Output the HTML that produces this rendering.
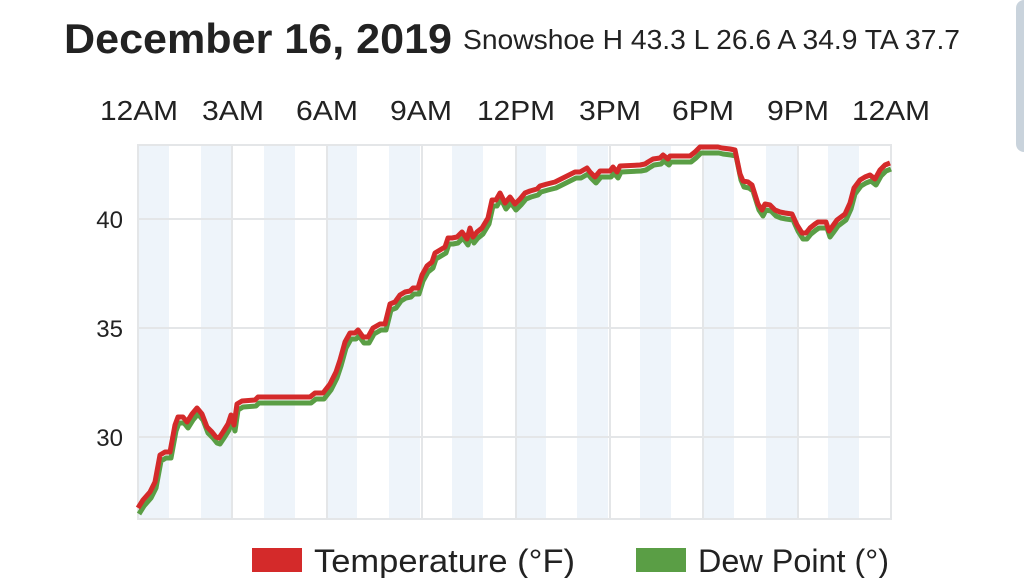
<!DOCTYPE html>
<html><head><meta charset="utf-8"><style>
html,body{margin:0;padding:0;background:#fff;width:1024px;height:578px;overflow:hidden}
svg{display:block}
text{font-family:"Liberation Sans",sans-serif;fill:#222}
</style></head><body>
<svg width="1024" height="578" viewBox="0 0 1024 578">
<rect x="1016" y="0" width="20" height="152" rx="8" fill="#c9d3dc"/>
<text x="64" y="53" font-size="42" font-weight="bold" textLength="388" lengthAdjust="spacingAndGlyphs">December 16, 2019</text>
<text x="463" y="49" font-size="28" textLength="497" lengthAdjust="spacingAndGlyphs">Snowshoe H 43.3 L 26.6 A 34.9 TA 37.7</text>
<g font-size="28" text-anchor="middle">
<text x="139" y="120" textLength="78" lengthAdjust="spacingAndGlyphs">12AM</text>
<text x="233" y="120" textLength="62" lengthAdjust="spacingAndGlyphs">3AM</text>
<text x="327" y="120" textLength="62" lengthAdjust="spacingAndGlyphs">6AM</text>
<text x="421" y="120" textLength="62" lengthAdjust="spacingAndGlyphs">9AM</text>
<text x="516" y="120" textLength="78" lengthAdjust="spacingAndGlyphs">12PM</text>
<text x="610" y="120" textLength="62" lengthAdjust="spacingAndGlyphs">3PM</text>
<text x="703" y="120" textLength="62" lengthAdjust="spacingAndGlyphs">6PM</text>
<text x="798" y="120" textLength="62" lengthAdjust="spacingAndGlyphs">9PM</text>
<text x="891" y="120" textLength="78" lengthAdjust="spacingAndGlyphs">12AM</text>
</g>
<g fill="#eef4fa">
<rect x="138" y="145" width="31" height="374"/><rect x="201" y="145" width="31" height="374"/>
<rect x="264" y="145" width="31" height="374"/><rect x="326" y="145" width="31" height="374"/>
<rect x="389" y="145" width="31" height="374"/><rect x="452" y="145" width="31" height="374"/>
<rect x="515" y="145" width="31" height="374"/><rect x="577" y="145" width="31" height="374"/>
<rect x="640" y="145" width="31" height="374"/><rect x="703" y="145" width="31" height="374"/>
<rect x="766" y="145" width="31" height="374"/><rect x="828" y="145" width="31" height="374"/>
</g>
<g stroke="#e4e6e8" stroke-width="2" fill="none">
<rect x="138" y="145" width="753" height="374"/>
<line x1="138" y1="219" x2="891" y2="219"/><line x1="138" y1="328" x2="891" y2="328"/><line x1="138" y1="437" x2="891" y2="437"/>
<line x1="232" y1="145" x2="232" y2="519"/><line x1="327" y1="145" x2="327" y2="519"/><line x1="422" y1="145" x2="422" y2="519"/>
<line x1="516" y1="145" x2="516" y2="519"/><line x1="610" y1="145" x2="610" y2="519"/><line x1="703" y1="145" x2="703" y2="519"/>
<line x1="798" y1="145" x2="798" y2="519"/>
</g>
<g font-size="24" text-anchor="end">
<text x="123" y="228">40</text><text x="123" y="337">35</text><text x="123" y="446">30</text>
</g>
<defs><polyline id="T" points="138,508 143,500 150,492 155,482 160,455 165,452 170,452 175,425 178,417 183,417 187,422 192,414 197,408 202,414 207,427 212,432 216,437 219,438 223,432 228,424 231,415 234,425 237,404 242,401 255,400 258,397 310,397 315,393 323,393 330,384 336,372 340,360 345,342 350,333 355,333 358,330 363,337 368,337 373,328 380,324 385,324 390,304 395,302 400,295 405,292 410,291 413,288 418,288 422,275 427,266 432,262 435,253 440,250 445,247 448,238 452,238 457,237 462,232 467,239 470,228 473,237 477,232 482,228 488,218 492,200 496,200 500,193 505,203 510,197 515,204 520,199 525,193 530,191 537,189 540,186 547,184 555,182 565,177 575,172 580,172 587,168 590,172 595,177 600,171 610,171 613,167 617,172 620,166 640,165 645,164 648,162 653,159 660,158 663,155 668,159 670,156 690,156 695,152 700,147 718,147 722,148 730,149 735,150 740,174 743,181 748,182 752,185 758,204 762,210 765,204 770,205 775,210 780,212 785,213 792,214 797,225 802,233 806,233 810,228 815,224 818,222 822,222 826,222 829,231 832,227 837,220 841,217 845,214 850,203 854,188 860,180 865,177 870,175 875,179 880,170 885,165 890,163"/></defs>
<use href="#T" transform="translate(1,6)" fill="none" stroke="#5a9e45" stroke-width="5" stroke-linejoin="round"/>
<use href="#T" fill="none" stroke="#d42a2a" stroke-width="5" stroke-linejoin="round"/>
<rect x="252" y="548" width="50" height="24" fill="#d42a2a"/>
<text x="314" y="572" font-size="32" textLength="261" lengthAdjust="spacingAndGlyphs">Temperature (°F)</text>
<rect x="636" y="548" width="50" height="24" fill="#5a9e45"/>
<text x="698" y="572" font-size="32" textLength="191" lengthAdjust="spacingAndGlyphs">Dew Point (°)</text>
</svg>
</body></html>
